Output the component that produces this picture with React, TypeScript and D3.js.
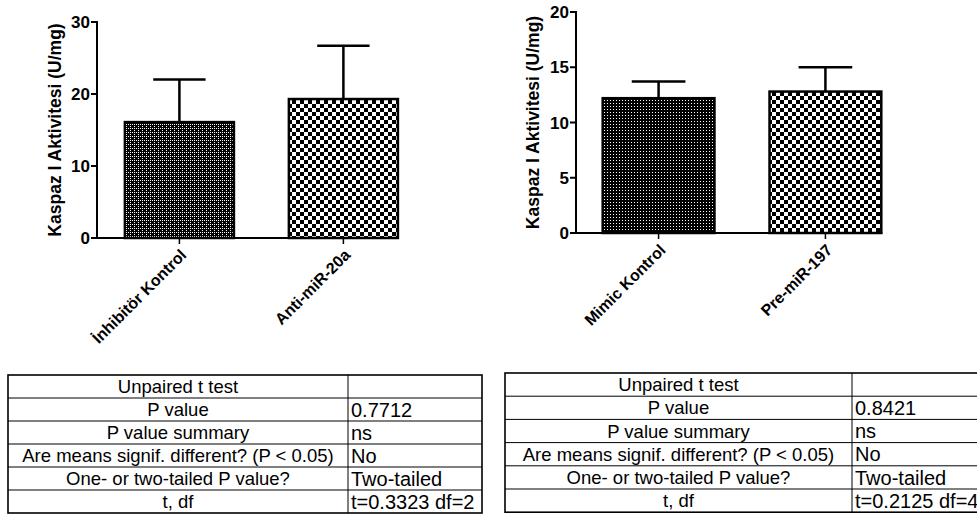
import * as d3 from "d3";

// left chart
const leftCategories = ["İnhibitör Kontrol", "Anti-miR-20a"];
const leftMeans = [16.1, 19.3];
const leftErrors = [5.9, 7.4];
const leftTicks = [0, 10, 20, 30];

// right chart
const rightCategories = ["Mimic Kontrol", "Pre-miR-197"];
const rightMeans = [12.2, 12.8];
const rightErrors = [1.5, 2.2];
const rightTicks = [0, 5, 10, 15, 20];

const yLabel = "Kaspaz I Aktivitesi (U/mg)";

// t test tables
const tableLabels = [
  "Unpaired t test",
  "P value",
  "P value summary",
  "Are means signif. different? (P < 0.05)",
  "One- or two-tailed P value?",
  "t, df",
];
const leftTableValues = ["", "0.7712", "ns", "No", "Two-tailed", "t=0.3323 df=2"];
const rightTableValues = ["", "0.8421", "ns", "No", "Two-tailed", "t=0.2125 df=4"];

const W = 977;
const H = 516;
const font = "'Liberation Sans', Arial, sans-serif";

type PanelProps = {
  categories: string[];
  means: number[];
  errors: number[];
  ticks: number[];
  axisX: number;
  y0: number;
  yTop: number;
  rangeEnd: number;
  padInner: number;
  padOuter: number;
  patterns: string[];
  labelX: number;
};

function BarPanel(p: PanelProps) {
  const max = p.ticks[p.ticks.length - 1];
  const y = d3.scaleLinear().domain([0, max]).range([p.y0, p.yTop]);
  const x = d3
    .scaleBand()
    .domain(p.categories)
    .range([p.axisX, p.rangeEnd])
    .paddingInner(p.padInner)
    .paddingOuter(p.padOuter);
  const bw = x.bandwidth();
  const last = p.categories[p.categories.length - 1];
  const axisEnd = x(last)! + bw + 1;

  return (
    <g>
      {p.categories.map((c, i) => {
        const cx = x(c)! + bw / 2;
        const top = y(p.means[i]);
        const errTop = y(p.means[i] + p.errors[i]);
        return (
          <g key={c}>
            <line x1={cx} x2={cx} y1={top} y2={errTop} stroke="#000" strokeWidth={2.5} />
            <line x1={cx - bw * 0.24} x2={cx + bw * 0.24} y1={errTop} y2={errTop} stroke="#000" strokeWidth={2.5} />
            <rect
              x={x(c)!}
              y={top}
              width={bw}
              height={p.y0 - top}
              fill={`url(#${p.patterns[i]})`}
              stroke="#000"
              strokeWidth={2.5}
            />
            <line x1={cx} x2={cx} y1={p.y0} y2={p.y0 + 6} stroke="#000" strokeWidth={1.5} />
            <text
              transform={`translate(${cx + 8},${p.y0 + 18}) rotate(-45)`}
              textAnchor="end"
              fontFamily={font}
              fontWeight="bold"
              fontSize={16}
            >
              {c}
            </text>
          </g>
        );
      })}
      {/* axes */}
      <line x1={p.axisX} x2={p.axisX} y1={p.yTop - 1} y2={p.y0 + 1} stroke="#000" strokeWidth={2} />
      <line x1={p.axisX - 1} x2={axisEnd} y1={p.y0} y2={p.y0} stroke="#000" strokeWidth={2} />
      {p.ticks.map((t) => (
        <g key={t}>
          <line x1={p.axisX - 6} x2={p.axisX} y1={y(t)} y2={y(t)} stroke="#000" strokeWidth={2} />
          <text
            x={p.axisX - 7}
            y={y(t)}
            dy="0.36em"
            textAnchor="end"
            fontFamily={font}
            fontWeight="bold"
            fontSize={17}
          >
            {t}
          </text>
        </g>
      ))}
      <text
        transform={`translate(${p.labelX},${(p.y0 + p.yTop) / 2}) rotate(-90)`}
        textAnchor="middle"
        fontFamily={font}
        fontWeight="bold"
        fontSize={17.5}
      >
        {yLabel}
      </text>
    </g>
  );
}

type TableProps = {
  x: number;
  y: number;
  width: number;
  split: number;
  rowH: number;
  values: string[];
};

function StatTable(t: TableProps) {
  const rows = d3.range(tableLabels.length);
  const ry = d3.scaleLinear().domain([0, rows.length]).range([t.y, t.y + t.rowH * rows.length]);
  const h = t.rowH * rows.length;
  return (
    <g fontFamily={font}>
      {rows.slice(1).map((r) => (
        <line key={r} x1={t.x} x2={t.x + t.width} y1={ry(r)} y2={ry(r)} stroke="#000" strokeWidth={1} />
      ))}
      <line x1={t.split} x2={t.split} y1={t.y} y2={t.y + h} stroke="#000" strokeWidth={1} />
      <rect x={t.x} y={t.y} width={t.width} height={h} fill="none" stroke="#000" strokeWidth={1.6} />
      {rows.map((r) => (
        <g key={r}>
          <text x={(t.x + t.split) / 2} y={ry(r) + t.rowH / 2} dy="0.36em" textAnchor="middle" fontSize={18.5}>
            {tableLabels[r]}
          </text>
          <text x={t.split + 3} y={ry(r) + t.rowH / 2} dy="0.36em" fontSize={20}>
            {t.values[r]}
          </text>
        </g>
      ))}
    </g>
  );
}

export default function App() {
  return (
    <svg
      width={W}
      height={H}
      style={{ position: "absolute", left: 0, top: 0, background: "#fff" }}
    >
      <defs>
        <pattern id="fine" width={4} height={4} patternUnits="userSpaceOnUse">
          <rect width={4} height={4} fill="#000" />
          <rect x={0} y={0} width={1} height={1} fill="#fff" />
          <rect x={2} y={2} width={1} height={1} fill="#fff" />
          <rect x={2} y={0} width={1} height={1} fill="#fff" />
        </pattern>
        <pattern id="dots" width={3} height={3} patternUnits="userSpaceOnUse">
          <rect width={3} height={3} fill="#000" />
          <rect x={1} y={1} width={1} height={1} fill="#fff" />
        </pattern>
        <pattern id="checker" width={8} height={8} patternUnits="userSpaceOnUse">
          <rect width={8} height={8} fill="#fff" />
          <rect x={0} y={0} width={4} height={4} fill="#000" />
          <rect x={4} y={4} width={4} height={4} fill="#000" />
        </pattern>
      </defs>
      <rect width={W} height={H} fill="#fff" />
      <BarPanel
        categories={leftCategories}
        means={leftMeans}
        errors={leftErrors}
        ticks={leftTicks}
        axisX={97}
        y0={238}
        yTop={22}
        rangeEnd={425.8}
        padInner={0.335}
        padOuter={0.17}
        patterns={["fine", "checker"]}
        labelX={61}
      />
      <BarPanel
        categories={rightCategories}
        means={rightMeans}
        errors={rightErrors}
        ticks={rightTicks}
        axisX={576}
        y0={233}
        yTop={12}
        rangeEnd={908}
        padInner={0.33}
        padOuter={0.16}
        patterns={["dots", "checker"]}
        labelX={539}
      />
      <StatTable x={8} y={375} width={474} split={348} rowH={23} values={leftTableValues} />
      <StatTable x={505} y={373} width={480} split={852} rowH={23.2} values={rightTableValues} />
    </svg>
  );
}
